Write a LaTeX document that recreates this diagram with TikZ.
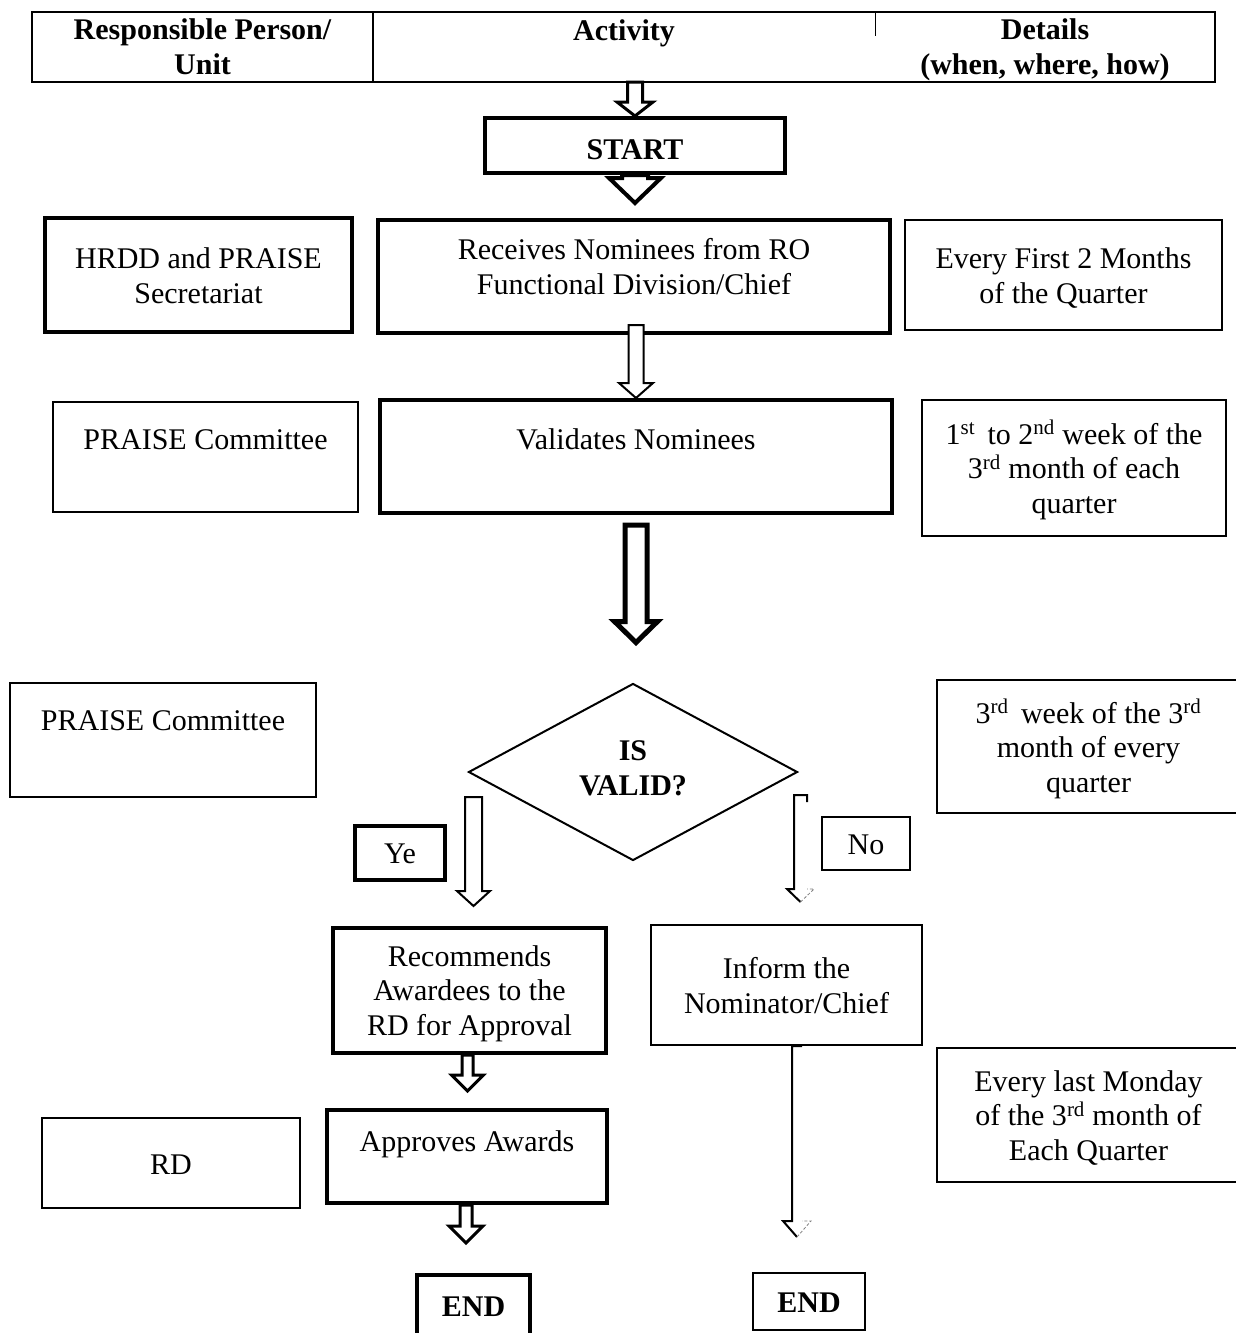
\documentclass[tikz,border=0pt]{standalone}
\usepackage{fontspec}
\setmainfont{Liberation Serif}
\usetikzlibrary{calc,shapes.geometric}

\newcommand{\bodyfont}{\fontsize{30}{34.5}\selectfont}
% hollow block arrow: [opts]{from}{tip}{shaft half}{head half}{head length}
\newcommand{\hollowarrow}[6][]{%
  \draw[fill=white,line join=miter,#1] let \p1=#2, \p2=#3 in
    (\x2-#4,\y1) -- (\x2-#4,\y2+#6) -- (\x2-#5,\y2+#6) -- (\x2,\y2)
    -- (\x2+#5,\y2+#6) -- (\x2+#4,\y2+#6) -- (\x2+#4,\y1) -- cycle;}
% same, but only the left half is printed clearly
\newcommand{\brokenarrow}[7][]{%
  \draw[line join=miter,#1] let \p1=#2, \p2=#3 in
    (\x2+#4,\y1-#7) -- (\x2+#4,\y1) -- (\x2-#4,\y1) -- (\x2-#4,\y2+#6)
    -- (\x2-#5,\y2+#6) -- (\x2,\y2);
  \draw[gray,densely dashed,line width=0.8pt] let \p1=#2, \p2=#3 in
    (\x2,\y2) -- (\x2+#5,\y2+#6) -- (\x2+#4,\y2+#6);}

\begin{document}
\begin{tikzpicture}[x=1pt, y=-1pt,
	every node/.style={font=\bodyfont},
	bold/.style={font=\bodyfont\bfseries},
	wh/.style 2 args={minimum width=#1, minimum height=#2},
	tb/.style 2 args={text height=#1, text depth=#2},
	head/.style={rectangle, inner sep=0pt, align=center, bold},
	box/.style={draw, rectangle, inner sep=0pt, align=center, line width=2.5pt},
	thick box/.style={box, line width=4pt},
	decision/.style={draw, diamond, inner sep=0pt, align=center, bold, line width=2pt}]
\useasboundingbox (0,0) rectangle (1235,1333);

% header row
\node[head, wh={341pt}{70pt}, tb={54pt}{0pt}] (resp) at (202.5,47) {Responsible Person/\\Unit};
\node[head, wh={502pt}{70pt}, tb={20pt}{34pt}] (act) at (624,47) {Activity};
\node[head, wh={340pt}{70pt}, tb={54pt}{0pt}] (det) at (1045,47) {Details\\(when, where, how)};
\draw[line width=2pt] (resp.north west) rectangle (det.south east);
\draw[line width=2pt] (resp.north east) -- (resp.south east);
\draw[line width=1pt] (act.north east) -- ++(0,24);

% activities
\node[thick box, bold, wh={300pt}{55pt}, tb={28pt}{0pt}] (start) at (635,145.5) {START};
\node[thick box, wh={512pt}{113pt}, tb={35pt}{0pt}] (recv) at (634,276.5) {Receives Nominees from RO\\Functional Division/Chief};
\node[thick box, wh={512pt}{113pt}, tb={20pt}{34pt}] (valid) at (636,456.5) {Validates Nominees};
\node[decision, wh={329pt}{177pt}, tb={46pt}{0pt}] (isvalid) at (633,772) {IS\\VALID?};
\node[thick box, wh={90pt}{54pt}, tb={21pt}{0pt}] (ye) at (400,853) {Ye};
\node[box, line width=2pt, wh={88pt}{53pt}, tb={22pt}{0pt}] (no) at (866,843.5) {No};
\node[thick box, wh={273pt}{125pt}, tb={89pt}{0pt}] (recom) at (469.5,990.5) {Recommends\\Awardees to the\\RD for Approval};
\node[box, line width=2pt, wh={271pt}{120pt}, tb={56pt}{0pt}] (inform) at (786.5,985) {Inform the\\Nominator/Chief};
\node[thick box, wh={280pt}{93pt}, tb={20pt}{30pt}] (approve) at (467,1156.5) {Approves Awards};
\node[thick box, bold, wh={113pt}{65pt}, tb={20pt}{2pt}] (endyes) at (473.5,1307.5) {END};
\node[box, bold, line width=2pt, wh={112pt}{57pt}, tb={22pt}{0pt}] (endno) at (809,1301.5) {END};

% responsible units
\node[thick box, wh={307pt}{114pt}, tb={56pt}{0pt}] (hrdd) at (198.5,275) {HRDD and PRAISE\\Secretariat};
\node[box, wh={305pt}{110pt}, tb={20pt}{35pt}] (praise) at (205.5,457) {PRAISE Committee};
\node[box, wh={306pt}{114pt}, tb={20pt}{39pt}] (praisetwo) at (163,740) {PRAISE Committee};
\node[box, wh={258pt}{90pt}, tb={23pt}{0pt}] (rd) at (171,1163) {RD};

% details
\node[box, line width=2pt, wh={317pt}{110pt}, tb={56pt}{0pt}] (firstmon) at (1063.5,275) {Every First 2 Months\\of the Quarter};
\node[box, wh={304pt}{136pt}, tb={90pt}{0pt}] (weeks) at (1074,468) {1\textsuperscript{st}\, to 2\textsuperscript{nd} week of the\\3\textsuperscript{rd} month of each\\quarter};
\node[box, wh={303pt}{133pt}, tb={91pt}{0pt}] (weekthree) at (1088.5,746.5) {3\textsuperscript{rd}\, week of the 3\textsuperscript{rd}\\month of every\\quarter};
\node[box, wh={303pt}{134pt}, tb={90pt}{0pt}] (lastmon) at (1088.5,1115) {Every last Monday\\of the 3\textsuperscript{rd} month of\\Each Quarter};

% connectors
\hollowarrow[line width=3pt]{(start.north |- act.south)}{(start.north)}{7.5pt}{18pt}{14pt}
\hollowarrow[line width=4pt]{(start.south)}{($(start.south |- recv.north)+(0pt,15pt)$)}{13pt}{26pt}{25pt}
\hollowarrow[line width=2pt]{($(recv.south)+(0pt,10pt)$)}{(valid.north)}{7.5pt}{17pt}{15pt}
\hollowarrow[line width=5pt]{($(valid.south)+(0pt,-10pt)$)}{($(valid.south |- isvalid.north)+(0pt,40pt)$)}{11pt}{21.5pt}{21pt}
\hollowarrow[line width=2pt]{($(isvalid.west)+(0pt,-25pt)$)}{($(recom.north)+(4pt,20pt)$)}{8.5pt}{16.5pt}{15pt}
\brokenarrow[line width=2pt]{($(isvalid.east)+(0pt,-23pt)$)}{($(inform.north)+(14pt,22pt)$)}{6.5pt}{13.5pt}{13pt}{7pt}
\hollowarrow[line width=3pt]{(recom.south)}{($(approve.north)+(0.5pt,17pt)$)}{5.5pt}{16pt}{16pt}
\brokenarrow[line width=2pt]{(inform.south)}{($(inform.south |- endno.north)+(10.5pt,35pt)$)}{5pt}{14pt}{16pt}{0pt}
\hollowarrow[line width=3pt]{(approve.south)}{($(approve.south |- endyes.north)+(-1pt,30pt)$)}{6pt}{17pt}{17pt}
\end{tikzpicture}
\end{document}
